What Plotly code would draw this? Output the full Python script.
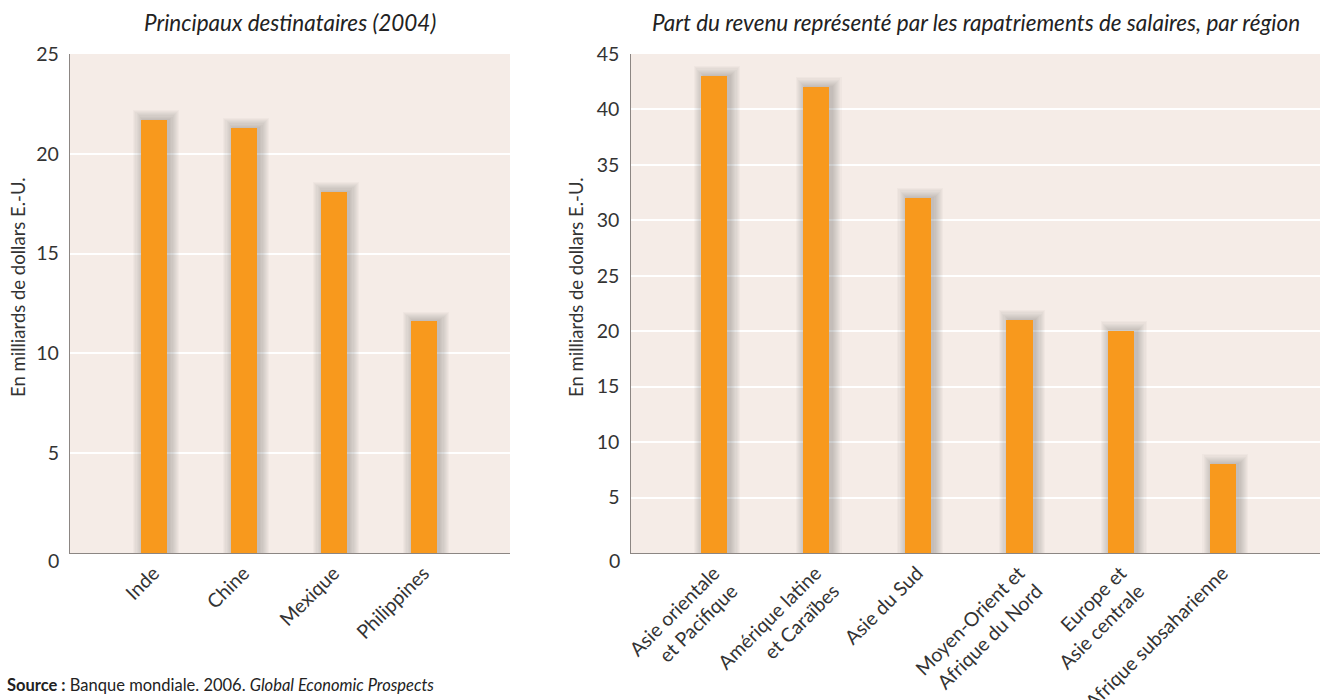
import plotly.graph_objects as go

# Left panel: main recipient countries, 2004 (billions of US dollars)
pays = ["Inde", "Chine", "Mexique", "Philippines"]
montants_pays = [21.7, 21.3, 18.1, 11.6]

# Right panel: remittances by region
regions = [
    "Asie orientale<br>et Pacifique",
    "Amérique latine<br>et Caraïbes",
    "Asie du Sud",
    "Moyen-Orient et<br>Afrique du Nord",
    "Europe et<br>Asie centrale",
    "Afrique subsaharienne",
]
montants_regions = [43.0, 42.0, 32.0, 21.0, 20.0, 8.0]

ticks_gauche = [5, 10, 15, 20, 25]
ticks_droite = [5, 10, 15, 20, 25, 30, 35, 40, 45]

titre_gauche = "Principaux destinataires (2004)"
titre_droite = "Part du revenu représenté par les rapatriements de salaires, par région"
titre_axe_y = "En milliards de dollars E.-U."

BAR = "#F8991D"
BG = "#F5ECE7"
AXIS = "#8C8683"
TXT = "#333333"
FONT = "Lato, 'Open Sans', sans-serif"

W, H = 1322, 700
bottom_px, top_px = 553, 54
ydom = [1 - bottom_px / H, 1 - top_px / H]

fig = go.Figure()


def add_bars(cats, vals, xa, ya, width, px_x, px_y):
    """Bars with a soft drop shadow built from stacked translucent layers."""
    for i in range(9, 0, -1):
        grow = 1.1 * i
        w = width + 2 * grow / px_x
        fig.add_trace(go.Bar(
            x=cats, y=[v + grow / px_y for v in vals],
            width=w, offset=-w / 2 + 2.5 / px_x,
            marker=dict(color="rgba(70,60,55,0.03)", line=dict(width=0)),
            xaxis=xa, yaxis=ya, hoverinfo="skip", showlegend=False,
        ))
    fig.add_trace(go.Bar(
        x=cats, y=vals, width=width, offset=-width / 2,
        marker=dict(color=BAR, line=dict(width=0)),
        xaxis=xa, yaxis=ya, showlegend=False,
    ))


# left panel: 90 px per category, ~19.97 px per unit
add_bars(pays, montants_pays, "x", "y", 0.29, 90.0, 19.97)
# right panel: ~101.6 px per category, ~11.06 px per unit
add_bars(regions, montants_regions, "x2", "y2", 0.256, 101.6, 11.06)

xcommon = dict(
    type="category", showgrid=False, zeroline=False, showline=True,
    linecolor=AXIS, linewidth=1.3, ticks="", tickangle=-45, automargin=False,
    tickfont=dict(family=FONT, size=19.5, color=TXT), fixedrange=True,
)
ycommon = dict(
    showgrid=True, gridcolor="white", gridwidth=2, zeroline=False,
    showline=True, linecolor=AXIS, linewidth=1.3, ticks="", automargin=False,
    tickfont=dict(family=FONT, size=19.5, color=TXT), ticklabelstandoff=6,
    tickmode="array", fixedrange=True,
)

annotations = [
    dict(text=f"<i>{titre_gauche}</i>", xref="paper", yref="paper",
         x=290 / W, y=1 - 22 / H, showarrow=False, xanchor="center",
         yanchor="middle", font=dict(family=FONT, size=22.5, color="#222")),
    dict(text=f"<i>{titre_droite}</i>", xref="paper", yref="paper",
         x=976 / W, y=1 - 22 / H, showarrow=False, xanchor="center",
         yanchor="middle", font=dict(family=FONT, size=22.5, color="#222")),
    dict(text="<b>Source :</b> Banque mondiale. 2006. <i>Global Economic Prospects</i>",
         xref="paper", yref="paper", x=5 / W, y=1 - 685 / H,
         showarrow=False, xanchor="left", yanchor="middle",
         font=dict(family=FONT, size=16.5, color="#222")),
]
# vertical axis titles and the "0" labels sitting just under the baseline
for xpix_title, xpix_axis, ya in [(18, 70, "y"), (576, 630.5, "y2")]:
    annotations.append(dict(
        text=titre_axe_y, textangle=-90, xref="paper", yref="paper",
        x=xpix_title / W, y=1 - 287 / H, showarrow=False,
        xanchor="center", yanchor="middle",
        font=dict(family=FONT, size=18.5, color=TXT)))
    annotations.append(dict(
        text="0", xref="paper", yref=ya, x=(xpix_axis - 9) / W, y=0,
        yshift=-7, showarrow=False, xanchor="right", yanchor="middle",
        font=dict(family=FONT, size=19.5, color=TXT)))

fig.update_layout(
    width=W, height=H,
    margin=dict(l=0, r=0, t=0, b=0, autoexpand=False),
    paper_bgcolor="white",
    plot_bgcolor=BG,
    barmode="overlay",
    bargap=0,
    xaxis=dict(xcommon, domain=[70 / W, 510 / W], range=[-0.93, 3.96],
               anchor="y"),
    yaxis=dict(ycommon, domain=ydom, range=[0, 25], tickvals=ticks_gauche,
               anchor="x"),
    xaxis2=dict(xcommon, domain=[630.5 / W, 1320 / W], range=[-0.82, 5.96],
                anchor="y2"),
    yaxis2=dict(ycommon, domain=ydom, range=[0, 45], tickvals=ticks_droite,
                anchor="x2"),
    annotations=annotations,
)

fig.write_html("out.html")
